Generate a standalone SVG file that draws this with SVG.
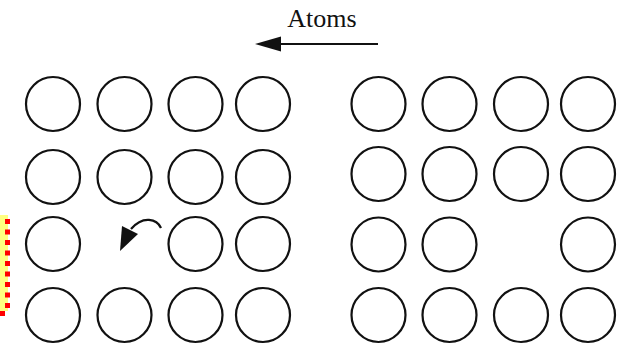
<svg xmlns="http://www.w3.org/2000/svg" width="620" height="349" viewBox="0 0 620 349">
  <style>
    .atom { fill: none; stroke: #111; stroke-width: 2.2; }
    .label { font-family: "Liberation Serif", "DejaVu Serif", serif; font-size: 26px; fill: #111; }
    .flow { fill: none; stroke: #111; stroke-width: 2.2; }
  </style>
  <rect width="620" height="349" fill="#fff"/>

  <!-- highlight strip at the left edge -->
  <rect x="0" y="215" width="8" height="96" fill="#ffff80"/>
  <line x1="7.5" y1="219" x2="7.5" y2="311" stroke="#f00" stroke-width="5" stroke-dasharray="5 5.5"/>
  <rect x="0" y="311" width="5" height="5" fill="#f00"/>

  <!-- left lattice: one vacancy in row 3 -->
  <g id="left-lattice">
    <circle class="atom" cx="53" cy="104" r="27"/>
    <circle class="atom" cx="124.5" cy="104" r="27"/>
    <circle class="atom" cx="195.5" cy="104" r="27"/>
    <circle class="atom" cx="263" cy="104" r="27"/>
    <circle class="atom" cx="53" cy="177" r="27"/>
    <circle class="atom" cx="124.5" cy="177" r="27"/>
    <circle class="atom" cx="195.5" cy="177" r="27"/>
    <circle class="atom" cx="263" cy="177" r="27"/>
    <circle class="atom" cx="53" cy="244" r="27"/>
    <circle class="atom" cx="195.5" cy="244" r="27"/>
    <circle class="atom" cx="263" cy="244" r="27"/>
    <circle class="atom" cx="53" cy="315" r="27"/>
    <circle class="atom" cx="124.5" cy="315" r="27"/>
    <circle class="atom" cx="195.5" cy="315" r="27"/>
    <circle class="atom" cx="263" cy="315" r="27"/>
  </g>

  <!-- right lattice: vacancy moved to column 3 -->
  <g id="right-lattice">
    <circle class="atom" cx="378.5" cy="104" r="27"/>
    <circle class="atom" cx="449.5" cy="104" r="27"/>
    <circle class="atom" cx="521" cy="104" r="27"/>
    <circle class="atom" cx="588" cy="104" r="27"/>
    <circle class="atom" cx="378.5" cy="174" r="27"/>
    <circle class="atom" cx="449.5" cy="174" r="27"/>
    <circle class="atom" cx="521" cy="174" r="27"/>
    <circle class="atom" cx="588" cy="174" r="27"/>
    <circle class="atom" cx="378.5" cy="244.5" r="27"/>
    <circle class="atom" cx="449.5" cy="244.5" r="27"/>
    <circle class="atom" cx="588" cy="244.5" r="27"/>
    <circle class="atom" cx="378.5" cy="315" r="27"/>
    <circle class="atom" cx="449.5" cy="315" r="27"/>
    <circle class="atom" cx="521" cy="315" r="27"/>
    <circle class="atom" cx="588" cy="315" r="27"/>
  </g>

  <g id="title">
    <text class="label" x="322" y="27" text-anchor="middle">Atoms</text>
  </g>

  <g id="connectors">
    <!-- atom flow direction -->
    <line class="flow" x1="378" y1="44" x2="270" y2="44"/>
    <path d="M255,44 L281,36.5 L281,51.5 Z" fill="#111"/>
    <!-- hop into the vacancy -->
    <path class="flow" d="M161,228 C157,219 143,215 131,229"/>
    <path d="M122,226 L138,234 L120,251 Z" fill="#111"/>
  </g>
</svg>
